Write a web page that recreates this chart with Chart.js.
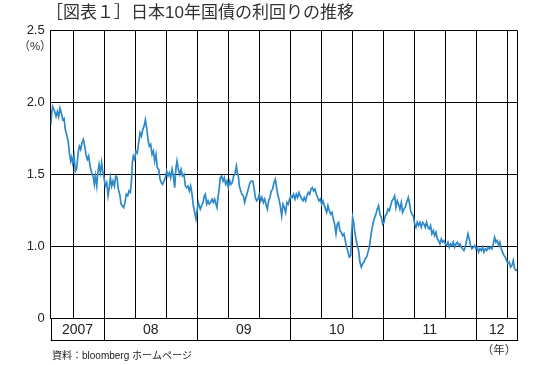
<!DOCTYPE html>
<html lang="ja">
<head>
<meta charset="utf-8">
<title>日本10年国債の利回りの推移</title>
<script src="https://cdn.jsdelivr.net/npm/chart.js@4.4.1/dist/chart.umd.min.js"></script>
<style>
  html, body { margin: 0; padding: 0; background: #fff; }
  #yieldChart { display: block; }
</style>
</head>
<body>
<canvas id="yieldChart" width="550" height="365"></canvas>
<script>
// x = months counted from Jan 2007 (0 = 2007-01, 12 = 2008-01, ...)
const months = [
  5.08, 5.21, 5.34, 5.60, 5.77, 5.94, 6.11, 6.28, 6.46, 6.63, 6.80, 6.97, 7.14, 7.36, 7.49, 7.66, 7.79, 7.92,
  8.09, 8.26, 8.44, 8.65, 8.78, 8.95, 9.12, 9.30, 9.47, 9.64, 9.81, 9.98, 10.16, 10.37, 10.59, 10.71, 10.84,
  11.02, 11.14, 11.32, 11.49, 11.66, 11.79, 11.96, 12.13, 12.31, 12.48, 12.61, 12.78, 12.95, 13.12, 13.30,
  13.47, 13.64, 13.81, 14.03, 14.16, 14.33, 14.50, 14.67, 14.84, 15.02, 15.19, 15.36, 15.49, 15.62, 15.75,
  15.92, 16.09, 16.26, 16.43, 16.61, 16.78, 16.95, 17.12, 17.30, 17.47, 17.64, 17.81, 17.98, 18.16, 18.33,
  18.50, 18.67, 18.84, 19.02, 19.19, 19.36, 19.53, 19.70, 19.88, 20.05, 20.22, 20.39, 20.56, 20.74, 20.91,
  21.08, 21.25, 21.38, 21.55, 21.73, 21.90, 22.07, 22.28, 22.46, 22.63, 22.80, 22.97, 23.14, 23.32, 23.49,
  23.66, 23.83, 23.96, 24.13,
  24.39, 24.56, 24.74, 24.91, 25.04, 25.21, 25.38, 25.55, 25.72, 25.90, 26.07, 26.24, 26.41, 26.54, 26.67,
  26.84, 26.97, 27.14, 27.32, 27.49, 27.66, 27.83, 28.00, 28.18, 28.35, 28.52, 28.69, 28.86, 29.04, 29.17,
  29.30, 29.42, 29.60, 29.77, 29.94, 30.11, 30.28, 30.46, 30.63, 30.80, 30.97, 31.14, 31.32, 31.49, 31.66,
  31.83, 32.00, 32.18, 32.35, 32.52, 32.69, 32.86, 33.04, 33.21, 33.38, 33.55, 33.72, 33.90, 34.07, 34.20,
  34.37, 34.54, 34.71, 34.89, 35.06, 35.23, 35.40, 35.57, 35.75, 35.92, 36.09, 36.26, 36.43, 36.61, 36.78,
  36.95, 37.12, 37.29, 37.47, 37.64, 37.81, 37.98, 38.15, 38.33, 38.50, 38.67, 38.84, 39.02, 39.19, 39.36,
  39.53, 39.70, 39.88, 40.05, 40.22, 40.39,
  40.48, 40.69, 40.86, 41.04, 41.21, 41.38, 41.55, 41.72, 41.90, 42.07, 42.24, 42.41, 42.58, 42.76, 42.93,
  43.10, 43.27, 43.45, 43.62, 43.79, 43.92, 44.05, 44.18, 44.30, 44.48, 44.65, 44.82, 44.99, 45.17, 45.34,
  45.51, 45.68, 45.85, 46.03, 46.20, 46.37, 46.54, 46.71, 46.89, 47.06, 47.23, 47.40, 47.57, 47.75, 47.92,
  48.09, 48.26, 48.43, 48.61, 48.78, 48.95, 49.12, 49.29, 49.47, 49.64, 49.81, 49.98, 50.15, 50.33, 50.50,
  50.67, 50.84, 51.01, 51.23, 51.40, 51.53, 51.70, 51.87, 52.05, 52.22, 52.39, 52.56, 52.73, 52.91, 53.08,
  53.25, 53.42, 53.60, 53.77, 53.94, 54.11, 54.28, 54.46, 54.63, 54.80, 54.97, 55.14, 55.32, 55.49, 55.66,
  55.83, 56.00, 56.18, 56.35, 56.52, 56.69, 56.86, 57.04, 57.21, 57.38, 57.55, 57.72, 57.90, 58.07, 58.24,
  58.41, 58.58, 58.76, 58.93, 59.10, 59.27, 59.44, 59.62, 59.79, 59.96, 60.13, 60.30, 60.48, 60.65, 60.82,
  60.99, 61.16, 61.34, 61.51, 61.68, 61.85, 62.03, 62.20, 62.37, 62.54, 62.71, 62.89, 63.06, 63.23, 63.40,
  63.57, 63.75, 63.92, 64.09, 64.26, 64.43, 64.61, 64.78, 64.95, 65.12, 65.29
];

// 10-year JGB yield (%)
const yields = [
  1.846, 1.926, 1.972, 1.938, 1.903, 1.938, 1.900, 1.961, 1.926, 1.880, 1.890, 1.810, 1.777, 1.720, 1.650, 1.593, 1.620, 1.580,
  1.628, 1.524, 1.547, 1.662, 1.697, 1.674, 1.720, 1.743, 1.697, 1.639, 1.605, 1.628, 1.559, 1.512, 1.478, 1.432, 1.490,
  1.420, 1.501, 1.570, 1.513, 1.582, 1.524, 1.478, 1.420, 1.443, 1.352, 1.398, 1.478, 1.420, 1.455, 1.420,
  1.490, 1.478, 1.398, 1.352, 1.294, 1.283, 1.271, 1.306, 1.363, 1.352, 1.386, 1.375, 1.443, 1.582, 1.628,
  1.605, 1.662, 1.650, 1.720, 1.789, 1.766, 1.810, 1.834, 1.880, 1.822, 1.743, 1.697, 1.709, 1.639, 1.662,
  1.593, 1.639, 1.547, 1.536, 1.467, 1.443, 1.432, 1.455, 1.478, 1.524, 1.490, 1.513, 1.478, 1.536, 1.490,
  1.409, 1.547, 1.593, 1.536, 1.501, 1.536, 1.490, 1.501, 1.420, 1.409, 1.420, 1.386, 1.420, 1.363, 1.283,
  1.237, 1.191, 1.248, 1.306,
  1.260, 1.283, 1.306, 1.352, 1.363, 1.294, 1.317, 1.294, 1.306, 1.329, 1.306, 1.329, 1.294, 1.271, 1.340,
  1.409, 1.478, 1.490, 1.455, 1.478, 1.432, 1.455, 1.409, 1.455, 1.432, 1.444, 1.490, 1.501, 1.559, 1.513,
  1.490, 1.421, 1.386, 1.363, 1.352, 1.306, 1.340, 1.375, 1.409, 1.444, 1.455, 1.455, 1.409, 1.340, 1.317,
  1.329, 1.363, 1.317, 1.340, 1.306, 1.329, 1.294, 1.260, 1.317, 1.340, 1.386, 1.398, 1.444, 1.467, 1.421,
  1.363, 1.329, 1.283, 1.214, 1.294, 1.271, 1.237, 1.306, 1.294, 1.329, 1.352, 1.340, 1.363, 1.329, 1.363,
  1.340, 1.375, 1.352, 1.329, 1.317, 1.340, 1.317, 1.352, 1.375, 1.363, 1.398, 1.409, 1.386, 1.398, 1.363,
  1.340, 1.317, 1.329, 1.294, 1.317, 1.283,
  1.271, 1.237, 1.283, 1.248, 1.225, 1.237, 1.191, 1.156, 1.088, 1.156, 1.168, 1.110, 1.099, 1.076, 1.088,
  1.041, 0.995, 0.961, 0.926, 0.938, 1.088, 1.202, 1.168, 1.110, 1.053, 1.007, 0.972, 0.892, 0.857, 0.880,
  0.892, 0.915, 0.926, 0.961, 0.995, 1.064, 1.122, 1.168, 1.202, 1.225, 1.260, 1.283, 1.225, 1.202, 1.156,
  1.168, 1.214, 1.225, 1.260, 1.248, 1.283, 1.317, 1.329, 1.352, 1.271, 1.317, 1.294, 1.260, 1.306, 1.237,
  1.260, 1.271, 1.306, 1.340, 1.294, 1.248, 1.225, 1.214, 1.156, 1.133, 1.168, 1.145, 1.168, 1.133, 1.168,
  1.156, 1.133, 1.168, 1.133, 1.122, 1.145, 1.088, 1.110, 1.076, 1.099, 1.053, 1.041, 1.018, 1.053, 1.030,
  1.041, 1.018, 1.007, 1.030, 0.995, 1.018, 1.007, 1.030, 0.995, 1.018, 1.030, 1.007, 1.018, 0.995, 0.984,
  0.972, 0.995, 1.041, 1.088, 1.053, 1.007, 0.984, 0.995, 1.007, 0.984, 0.995, 0.961, 0.984, 0.972, 0.995,
  0.961, 0.984, 0.972, 0.995, 0.984, 0.995, 0.984, 1.018, 1.064, 1.030, 1.041, 1.007, 1.030, 0.984, 0.961,
  0.938, 0.926, 0.903, 0.880, 0.892, 0.857, 0.869, 0.903, 0.846, 0.834, 0.840
];

// vertical grid every 4 months (Jan / May / Sep)
const gridMonths = [8, 12, 16, 20, 24, 28, 32, 36, 40, 44, 48, 52, 56, 60, 64];
const yearStarts = [0, 12, 24, 36, 48, 60];
const yearLabels = ["2007", "08", "09", "10", "11", "12"];

const xMin = 5.08;
const xMax = 65.3;
const FONT = "'Liberation Sans', 'Noto Sans CJK JP', sans-serif";

// title, unit labels, year band and source note
const decorPlugin = {
  id: "decor",
  afterDraw(chart) {
    const { ctx, chartArea } = chart;
    const xs = chart.scales.x;
    const bandTop = chartArea.bottom;
    const bandBottom = 340.5;

    ctx.save();
    ctx.strokeStyle = "#000";
    ctx.lineWidth = 1;
    ctx.beginPath();
    ctx.moveTo(Math.round(chartArea.left) + 0.5, bandTop);
    ctx.lineTo(Math.round(chartArea.left) + 0.5, bandBottom);
    ctx.moveTo(Math.round(chartArea.right) + 0.5, bandTop);
    ctx.lineTo(Math.round(chartArea.right) + 0.5, bandBottom);
    ctx.moveTo(chartArea.left, bandBottom);
    ctx.lineTo(chartArea.right + 1, bandBottom);
    yearStarts.forEach(m => {
      if (m > xMin && m < xMax) {
        const px = Math.round(xs.getPixelForValue(m)) + 0.5;
        ctx.moveTo(px, bandTop);
        ctx.lineTo(px, bandBottom);
      }
    });
    ctx.stroke();

    ctx.fillStyle = "#222";
    ctx.font = "14px " + FONT;
    ctx.textAlign = "center";
    ctx.textBaseline = "middle";
    yearLabels.forEach((label, i) => {
      const a = Math.max(yearStarts[i], xMin);
      const b = Math.min(yearStarts[i] + 12, xMax);
      const cx = (xs.getPixelForValue(a) + xs.getPixelForValue(b)) / 2;
      ctx.fillText(label, cx, 330);
    });

    // title
    ctx.fillStyle = "#333";
    ctx.font = "17px " + FONT;
    ctx.textAlign = "left";
    ctx.fillText("［図表１］日本10年国債の利回りの推移", 46, 13);

    // units
    ctx.fillStyle = "#333";
    ctx.font = "11.5px " + FONT;
    ctx.textAlign = "center";
    ctx.fillText("（%）", 35, 47);
    ctx.fillText("（年）", 499, 351);

    // source
    ctx.fillStyle = "#222";
    ctx.font = "10px " + FONT;
    ctx.textAlign = "left";
    ctx.fillText("資料：bloomberg ホームページ", 52, 356);
    ctx.restore();
  }
};

new Chart(document.getElementById("yieldChart").getContext("2d"), {
  type: "line",
  data: {
    datasets: [{
      data: months.map((m, i) => ({ x: m, y: yields[i] })),
      borderColor: "#2e89c8",
      borderWidth: 1.7,
      pointRadius: 0,
      tension: 0,
      fill: false
    }]
  },
  options: {
    responsive: false,
    animation: false,
    events: [],
    layout: { padding: { top: 30.5, right: 32.7, left: 0, bottom: 0 } },
    plugins: {
      legend: { display: false },
      tooltip: { enabled: false },
      title: { display: false }
    },
    scales: {
      x: {
        type: "linear",
        min: xMin,
        max: xMax,
        grid: { color: "#000", lineWidth: 1, drawTicks: false },
        border: { color: "#000", width: 1 },
        ticks: { display: false },
        afterBuildTicks: scale => {
          scale.ticks = [xMin, ...gridMonths, xMax].map(v => ({ value: v }));
        },
        afterFit: scale => { scale.height = 46.5; }
      },
      y: {
        min: 0.5,
        max: 2.5,
        grid: { color: "#000", lineWidth: 1, drawTicks: false },
        border: { color: "#000", width: 1 },
        ticks: {
          stepSize: 0.5,
          padding: 6,
          color: "#222",
          font: { size: 13, family: FONT },
          // the axis is broken below 1.0: bottom line is labelled 0
          callback: v => (v === 0.5 ? "0" : v.toFixed(1))
        },
        afterFit: scale => { scale.width = 50.7; }
      }
    }
  },
  plugins: [decorPlugin]
});
</script>
</body>
</html>
